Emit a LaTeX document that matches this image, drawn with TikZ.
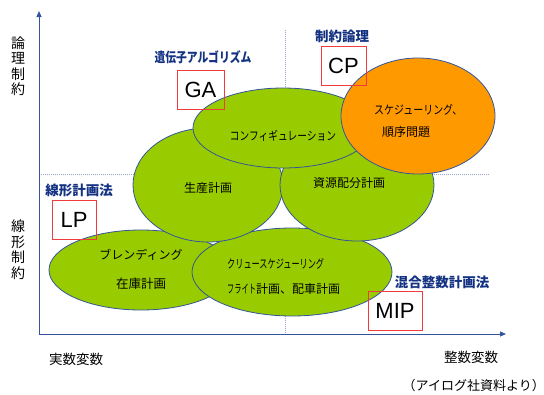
\documentclass[tikz,border=0pt]{standalone}
\usepackage{fontspec}
\usepackage{graphicx}
\setmainfont{Noto Sans CJK JP}
\newfontfamily\lat{Liberation Sans}
\usetikzlibrary{shapes.geometric,arrows.meta}
\definecolor{grn}{RGB}{153,204,0}
\definecolor{org}{RGB}{255,153,0}
\definecolor{edge}{RGB}{51,85,153}
\definecolor{lblue}{RGB}{20,50,130}
\definecolor{axisc}{RGB}{51,85,160}
\definecolor{guidec}{RGB}{150,165,200}
\definecolor{redc}{RGB}{240,60,60}
\begin{document}
\begin{tikzpicture}[x=1pt,y=-1pt,
  blob/.style={ellipse, draw=edge, line width=0.8pt, inner sep=0pt},
  tag/.style={draw=redc, line width=0.9pt, inner sep=0pt, minimum height=39pt, font=\lat\fontsize{22}{22}\selectfont},
  sect/.style={inner sep=0pt, text=lblue, font=\bfseries\fontsize{13.5}{14}\selectfont},
  txt/.style={inner sep=0pt, font=\fontsize{12}{14}\selectfont},
  axlab/.style={inner sep=0pt, font=\fontsize{13.5}{15}\selectfont},
  vlab/.style={inner sep=0pt, align=center, font=\fontsize{14}{15.5}\selectfont},
  axis/.style={draw=axisc, line width=1pt, -{Triangle[length=6pt,width=5pt]}},
  guide/.style={draw=guidec, line width=0.9pt, dash pattern=on 1pt off 1pt}]
\useasboundingbox (0,0) rectangle (544,394);
% guide lines
\coordinate (hl1) at (39,174); \coordinate (hl2) at (150,174);
\coordinate (hr1) at (420,174); \coordinate (hr2) at (490,174);
\coordinate (vt1) at (285,30); \coordinate (vt2) at (285,100);
\coordinate (vb1) at (285,300); \coordinate (vb2) at (285,334);
\draw[guide] (hl1) -- (hl2);
\draw[guide] (hr1) -- (hr2);
\draw[guide] (vt1) -- (vt2);
\draw[guide] (vb1) -- (vb2);
% axes
\coordinate (O) at (39,334); \coordinate (Ytop) at (39,11); \coordinate (Xend) at (506,334);
\draw[axis] (O) -- (Ytop);
\draw[axis] (O) -- (Xend);
% ellipses
\node[blob, fill=grn, minimum width=184pt, minimum height=80pt] (blend) at (141,270) {};
\node[blob, fill=grn, minimum width=200pt, minimum height=88pt] (crew) at (292,272) {};
\node[blob, fill=grn, minimum width=150pt, minimum height=114pt] (seisan) at (208,185) {};
\node[blob, fill=grn, minimum width=154pt, minimum height=112pt] (shigen) at (357,185) {};
\node[blob, fill=grn, minimum width=180pt, minimum height=80pt] (config) at (283,128) {};
\node[blob, fill=org, minimum width=154pt, minimum height=116pt] (sched) at (418,116) {};
% ellipse texts
\node[txt] (t1) at (141,255) {ブレンディング};
\node[txt, font=\fontsize{12.5}{14}\selectfont] (t2) at (141,284) {在庫計画};
\node[txt, anchor=west] (t3) at (227,264) {\scalebox{0.68}[1]{クリュースケジューリング}};
\node[txt, anchor=west] (t4) at (227,289) {\scalebox{0.6}[1]{フライト}計画、配車計画};
\node[txt] (t5) at (208,188) {生産計画};
\node[txt] (t6) at (349,183) {資源配分計画};
\node[txt] (t7) at (283,136) {\scalebox{0.81}[1]{コンフィギュレーション}};
\node[txt, anchor=west] (t8) at (374,110) {\scalebox{0.83}[1]{スケジューリング、}};
\node[txt, anchor=west] (t9) at (382,132) {順序問題};
% section labels
\node[sect] (sGA) at (203,57) {\scalebox{0.8}[1]{遺伝子アルゴリズム}};
\node[sect] (sCP) at (342,36) {制約論理};
\node[sect] (sLP) at (79,190) {線形計画法};
\node[sect] (sMIP) at (442,282) {混合整数計画法};
% tags
\node[tag, minimum width=47pt] (GA) at (200.5,89.5) {GA};
\node[tag, minimum width=45pt] (CP) at (343.5,65.5) {CP};
\node[tag, minimum width=44pt] (LP) at (74,219.5) {LP};
\node[tag, minimum width=54pt] (MIP) at (395,310.5) {MIP};
% axis labels
\node[vlab] (v1) at (18,66) {論\\理\\制\\約};
\node[vlab] (v2) at (18,249.5) {線\\形\\制\\約};
\node[axlab] (x1) at (76,359) {実数変数};
\node[axlab] (x2) at (471,357) {整数変数};
\node[axlab, anchor=east, font=\fontsize{13}{14}\selectfont] (src) at (545,386) {（アイログ社資料より）};
\end{tikzpicture}
\end{document}
